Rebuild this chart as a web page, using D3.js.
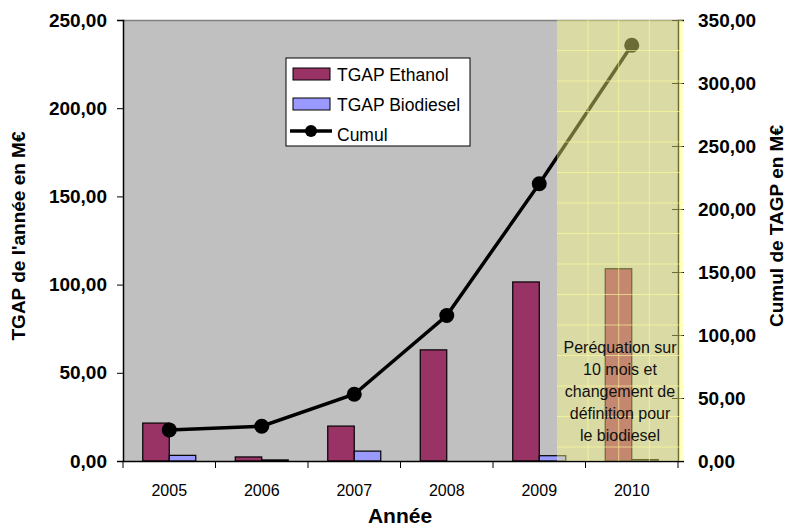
<!DOCTYPE html>
<html>
<head>
<meta charset="utf-8">
<script src="https://cdn.jsdelivr.net/npm/d3@7"></script>
<style>
  body { margin: 0; background: #fff; }
  svg { font-family: "Liberation Sans", Arial, sans-serif; }
</style>
</head>
<body>
<div id="wrapper"></div>
<script>
// data
const years = ["2005", "2006", "2007", "2008", "2009", "2010"]
const ethanol = [21.5, 2.3, 19.8, 63, 101.5, 109]
const biodiesel = [3.2, 0.6, 5.6, 0, 3.0, 0.8]
const cumul = [24.7, 27.6, 53, 115.5, 220, 330]
const leftTicks = [0, 50, 100, 150, 200, 250]
const rightTicks = [0, 50, 100, 150, 200, 250, 300, 350]
const seriesNames = ["TGAP Ethanol", "TGAP Biodiesel"]
const noteLines = ["Peréquation sur", "10 mois et", "changement de", "définition pour", "le biodiesel"]

const width = 798
const height = 528
let dimensions = {
    width: width,
    height: height,
    margin: { top: 20, right: 120, bottom: 67, left: 123 },
}
dimensions.boundedWidth = dimensions.width - dimensions.margin.left - dimensions.margin.right
dimensions.boundedHeight = dimensions.height - dimensions.margin.top - dimensions.margin.bottom

const fmt = d => d3.format(".2f")(d).replace(".", ",")

const wrapper = d3.select("#wrapper")
    .append("svg")
    .attr("width", dimensions.width)
    .attr("height", dimensions.height)

const bounds = wrapper.append("g")
    .attr("transform", `translate(${dimensions.margin.left},${dimensions.margin.top})`)

const xScaler = d3.scaleBand()
    .domain(years)
    .range([0, dimensions.boundedWidth])

const xSub = d3.scaleBand()
    .domain(seriesNames)
    .range([0, xScaler.bandwidth()])
    .paddingOuter(0.745)

const yLeft = d3.scaleLinear()
    .domain([0, 250])
    .range([dimensions.boundedHeight, 0])

const yRight = d3.scaleLinear()
    .domain([0, 350])
    .range([dimensions.boundedHeight, 0])

// plot background
bounds.append("rect")
    .attr("width", dimensions.boundedWidth)
    .attr("height", dimensions.boundedHeight)
    .attr("fill", "#c0c0c0")
bounds.append("line")
    .attr("x1", 0).attr("x2", dimensions.boundedWidth)
    .attr("y1", 0.5).attr("y2", 0.5)
    .attr("stroke", "#808080")
    .attr("stroke-width", 1.5)

// bars
const colors = { "TGAP Ethanol": "#993366", "TGAP Biodiesel": "#9999ff" }
const rows = years.map((y, i) => ({ year: y, "TGAP Ethanol": ethanol[i], "TGAP Biodiesel": biodiesel[i] }))

const groups = bounds.selectAll(".grp")
    .data(rows)
    .enter()
    .append("g")
    .attr("transform", d => `translate(${xScaler(d.year)},0)`)

groups.selectAll("rect")
    .data(d => seriesNames.map(s => ({ key: s, value: d[s] })))
    .enter()
    .append("rect")
    .attr("x", d => xSub(d.key))
    .attr("y", d => yLeft(d.value))
    .attr("width", xSub.bandwidth())
    .attr("height", d => dimensions.boundedHeight - yLeft(d.value))
    .attr("fill", d => colors[d.key])
    .attr("stroke", "black")
    .attr("stroke-width", 1.2)

// cumul line
const cx = (d, i) => xScaler(years[i]) + xScaler.bandwidth() / 2
const lineGen = d3.line()
    .x(cx)
    .y(d => yRight(d))
bounds.append("path")
    .datum(cumul)
    .attr("d", lineGen)
    .attr("fill", "none")
    .attr("stroke", "black")
    .attr("stroke-width", 3.5)
bounds.selectAll(".dot")
    .data(cumul)
    .enter()
    .append("circle")
    .attr("cx", cx)
    .attr("cy", d => yRight(d))
    .attr("r", 7.5)
    .attr("fill", "black")

// axes
const xAxisGen = d3.axisBottom(xScaler).tickSize(0).tickPadding(24)
const xAxis = bounds.append("g")
    .attr("transform", `translate(0,${dimensions.boundedHeight})`)
    .call(xAxisGen)
xAxis.select(".domain").attr("stroke", "black").attr("stroke-width", 1.5)
xAxis.selectAll("text").attr("font-size", "16px").attr("fill", "black")
xAxis.selectAll(".sep")
    .data(d3.range(years.length + 1))
    .enter()
    .append("line")
    .attr("x1", i => i * xScaler.step())
    .attr("x2", i => i * xScaler.step())
    .attr("y1", 0).attr("y2", 7)
    .attr("stroke", "black")

const yAxisGen = d3.axisLeft(yLeft).tickValues(leftTicks).tickFormat(fmt).tickSizeOuter(0).tickSize(6).tickPadding(10)
const yAxis = bounds.append("g").call(yAxisGen)
yAxis.select(".domain").attr("stroke", "black").attr("stroke-width", 1.5)
yAxis.selectAll("text").attr("font-size", "19px").attr("font-weight", "bold").attr("fill", "black")

const yAxis2Gen = d3.axisRight(yRight).tickValues(rightTicks).tickFormat(fmt).tickSizeOuter(0).tickSize(6).tickPadding(14)
const yAxis2 = bounds.append("g")
    .attr("transform", `translate(${dimensions.boundedWidth},0)`)
    .call(yAxis2Gen)
yAxis2.select(".domain").attr("stroke", "black").attr("stroke-width", 1.5)
yAxis2.selectAll(".tick line").attr("x1", -6)
yAxis2.selectAll("text").attr("font-size", "19px").attr("font-weight", "bold").attr("fill", "black")

// highlighted zone for 2010
const zoneX0 = 434
const zoneX1 = dimensions.boundedWidth + 5
const zone = bounds.append("g")
zone.append("rect")
    .attr("x", zoneX0)
    .attr("y", 0)
    .attr("width", zoneX1 - zoneX0)
    .attr("height", dimensions.boundedHeight)
    .attr("fill", "rgb(255,255,127)")
    .attr("fill-opacity", 0.42)
zone.selectAll(".vg")
    .data(d3.range(zoneX0 + 31, zoneX1, 30.7))
    .enter()
    .append("line")
    .attr("x1", d => d).attr("x2", d => d)
    .attr("y1", 0).attr("y2", dimensions.boundedHeight)
    .attr("stroke", "#ffff99").attr("stroke-opacity", 0.6)
zone.selectAll(".hg")
    .data(d3.range(30.5, dimensions.boundedHeight, 30.5))
    .enter()
    .append("line")
    .attr("x1", zoneX0).attr("x2", zoneX1)
    .attr("y1", d => d).attr("y2", d => d)
    .attr("stroke", "#ffff99").attr("stroke-opacity", 0.6)

bounds.append("g")
    .selectAll("text")
    .data(noteLines)
    .enter()
    .append("text")
    .attr("x", 497)
    .attr("y", (d, i) => 333 + i * 22)
    .attr("text-anchor", "middle")
    .attr("font-size", "16px")
    .attr("fill", "#111")
    .text(d => d)

// legend
const legend = wrapper.append("g").attr("transform", "translate(286,58)")
legend.append("rect")
    .attr("width", 184).attr("height", 88)
    .attr("fill", "white").attr("stroke", "black")
legend.selectAll(".sw")
    .data(seriesNames)
    .enter()
    .append("rect")
    .attr("x", 7).attr("y", (d, i) => 10 + i * 30)
    .attr("width", 37).attr("height", 12)
    .attr("fill", d => colors[d])
    .attr("stroke", "black")
legend.append("line")
    .attr("x1", 4).attr("x2", 46)
    .attr("y1", 73).attr("y2", 73)
    .attr("stroke", "black").attr("stroke-width", 3.5)
legend.append("circle")
    .attr("cx", 25).attr("cy", 73).attr("r", 6)
    .attr("fill", "black")
legend.selectAll(".lt")
    .data(seriesNames.concat(["Cumul"]))
    .enter()
    .append("text")
    .attr("x", 51)
    .attr("y", (d, i) => 23 + i * 30)
    .attr("font-size", "17.5px")
    .attr("fill", "black")
    .text(d => d)

// axis titles
wrapper.append("text")
    .attr("transform", "translate(25,236) rotate(-90)")
    .attr("text-anchor", "middle")
    .attr("font-size", "19px")
    .attr("font-weight", "bold")
    .text("TGAP de l'année en M€")

wrapper.append("text")
    .attr("transform", "translate(783,226) rotate(-90)")
    .attr("text-anchor", "middle")
    .attr("font-size", "19px")
    .attr("font-weight", "bold")
    .text("Cumul de TAGP en M€")

wrapper.append("text")
    .attr("x", 400)
    .attr("y", 523)
    .attr("text-anchor", "middle")
    .attr("font-size", "21px")
    .attr("font-weight", "bold")
    .text("Année")
</script>
</body>
</html>
